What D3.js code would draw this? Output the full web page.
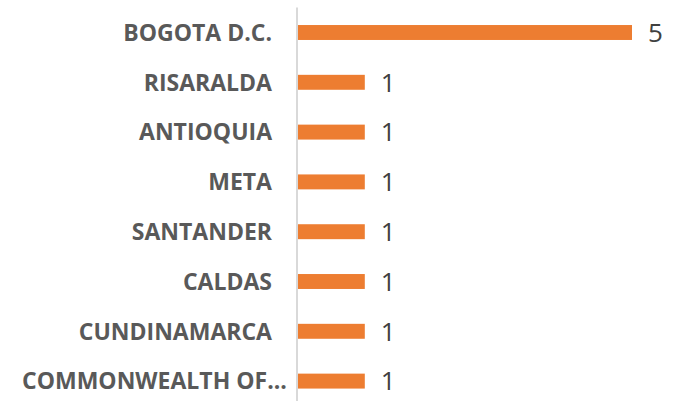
<!DOCTYPE html>
<html>
<head>
<meta charset="utf-8">
<script src="https://cdn.jsdelivr.net/npm/d3@7"></script>
<style>
  body { margin: 0; background: #fff; }
  svg { display: block; }
</style>
</head>
<body>
<svg id="canvas" width="679" height="401"></svg>
<script>
let categories = [
  "BOGOTA D.C.",
  "RISARALDA",
  "ANTIOQUIA",
  "META",
  "SANTANDER",
  "CALDAS",
  "CUNDINAMARCA",
  "COMMONWEALTH OF..."
];
let values = [5, 1, 1, 1, 1, 1, 1, 1];

let width = 679;
let height = 401;
let axisX = 297;

let canvas = d3.select("#canvas");

let xScale = d3.scaleLinear()
  .domain([0, 5])
  .range([axisX + 1, 632]);

let yScale = d3.scaleBand()
  .domain(categories)
  .range([7.6, 406])
  .paddingInner(0.7)
  .paddingOuter(0.35);

// bars
canvas.selectAll("rect.bar")
  .data(categories)
  .enter()
  .append("rect")
  .attr("class", "bar")
  .attr("x", xScale(0))
  .attr("y", (d) => yScale(d))
  .attr("width", (d, i) => xScale(values[i]) - xScale(0))
  .attr("height", yScale.bandwidth())
  .attr("fill", "#ED7D31");

// vertical axis line
canvas.append("line")
  .attr("x1", axisX)
  .attr("x2", axisX)
  .attr("y1", 7.5)
  .attr("y2", height)
  .attr("stroke", "#D9D9D9")
  .attr("stroke-width", 2);

// category labels
canvas.selectAll("text.cat")
  .data(categories)
  .enter()
  .append("text")
  .attr("class", "cat")
  .attr("x", (d) => d.endsWith("...") ? 22 : 272)
  .attr("y", (d) => yScale(d) + yScale.bandwidth() / 2)
  .attr("dy", "0.36em")
  .attr("text-anchor", (d) => d.endsWith("...") ? "start" : "end")
  .attr("font-family", "'Open Sans', sans-serif")
  .attr("font-weight", "bold")
  .attr("font-size", 23)
  .attr("fill", "#595959")
  .text((d) => d);

// value labels
canvas.selectAll("text.val")
  .data(categories)
  .enter()
  .append("text")
  .attr("class", "val")
  .attr("x", (d, i) => xScale(values[i]) + 16)
  .attr("y", (d) => yScale(d) + yScale.bandwidth() / 2)
  .attr("dy", "0.36em")
  .attr("font-family", "'Open Sans', sans-serif")
  .attr("font-size", 26)
  .attr("fill", "#404040")
  .text((d, i) => values[i]);
</script>
</body>
</html>
